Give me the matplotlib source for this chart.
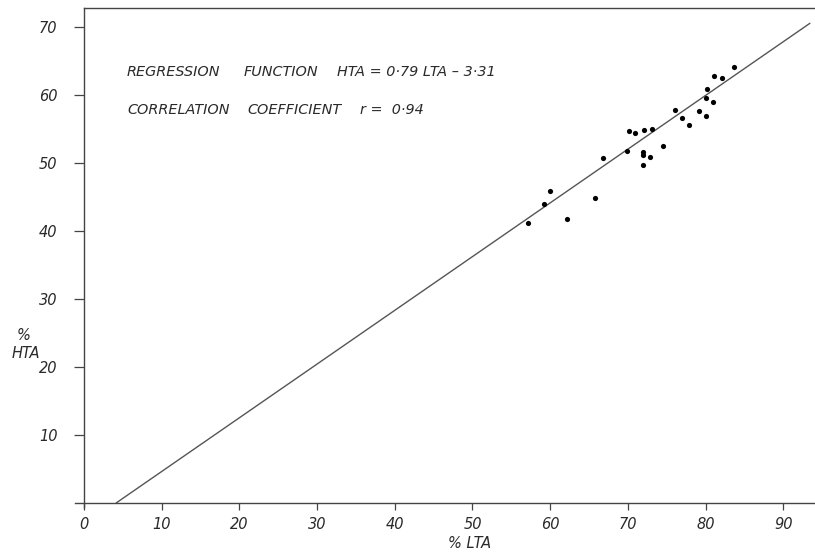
import matplotlib
matplotlib.use("Agg")
import matplotlib.pyplot as plt
import numpy as np

# Data
lta = [57.1, 59.2, 60.0, 62.1, 65.8, 66.8, 69.9, 70.1, 70.9, 71.9, 71.9, 71.9,
       72.8, 72.1, 73.1, 74.5, 76.0, 77.0, 77.9, 79.1, 80.1, 80.1, 81.0, 80.2,
       81.1, 82.1, 83.6]
hta = [41.2, 43.9, 45.8, 41.7, 44.8, 50.7, 51.7, 54.6, 54.4, 51.6, 51.1, 49.7,
       50.8, 54.8, 54.9, 52.4, 57.7, 56.6, 55.6, 57.6, 56.8, 59.5, 58.9, 60.8,
       62.7, 62.5, 64.1]
slope = 0.79
intercept = -3.31
r_value = 0.94
x_ticks = [0, 10, 20, 30, 40, 50, 60, 70, 80, 90]
y_ticks = [10, 20, 30, 40, 50, 60, 70]

W, H = 815, 552
fig = plt.figure(figsize=(W / 100, H / 100), dpi=100)
left_px, right_px, top_px, bottom_px = 84, 815, 8.3, 502.7
ax = fig.add_axes([left_px / W, (H - bottom_px) / H,
                   (right_px - left_px) / W, (bottom_px - top_px) / H])

xmax = 94.08
ymax = 72.7
ax.set_xlim(0, xmax)
ax.set_ylim(0, ymax)

ink = "#2a2a2a"
font = dict(family="DejaVu Sans", style="italic", color=ink)

# regression line
x0 = -intercept / slope
xs = np.array([x0, 93.4])
ax.plot(xs, slope * xs + intercept, color="#555555", lw=1.0)

ax.scatter(lta, hta, s=14, color="black", zorder=3, linewidths=0)

for side in ["left", "top", "bottom"]:
    ax.spines[side].set_color("#444444")
    ax.spines[side].set_linewidth(1.0)
ax.spines["right"].set_visible(False)
ax.spines["bottom"].set_bounds(-1.15, xmax)
ax.spines["left"].set_bounds(-0.6, ymax)

ax.set_xticks(x_ticks)
ax.set_xticklabels([str(v) for v in x_ticks])
ax.set_yticks(y_ticks)
ax.set_yticklabels([str(v) for v in y_ticks])
ax.tick_params(axis="x", direction="out", length=5, width=0.9, color="#444444",
               pad=5, labelsize=10.5, labelcolor=ink)
ax.tick_params(axis="y", direction="out", length=7, width=0.9, color="#444444",
               pad=12, labelsize=10.5, labelcolor=ink)
for lbl in ax.get_xticklabels() + ax.get_yticklabels():
    lbl.set_fontstyle("italic")
    lbl.set_family("DejaVu Sans")

# axis labels
fig.text(470 / W, 1 - 543.3 / H, "% LTA", ha="center", va="center", fontsize=10.5, **font)
fig.text(24 / W, 1 - 335 / H, "%", ha="center", va="center", fontsize=10.5, **font)
fig.text(26 / W, 1 - 353.3 / H, "HTA", ha="center", va="center", fontsize=10.5, **font)

# annotation text
fs = 10.4
fig.text(127 / W, 1 - 71.7 / H, "REGRESSION", ha="left", va="center", fontsize=fs, **font)
fig.text(244 / W, 1 - 71.7 / H, "FUNCTION", ha="left", va="center", fontsize=fs, **font)
fig.text(337 / W, 1 - 71.7 / H,
         "HTA = {}·{} LTA – {}·{}".format(*f"{slope:.2f}".split("."), *f"{-intercept:.2f}".split(".")),
         ha="left", va="center", fontsize=fs, **font)
fig.text(127 / W, 1 - 110 / H, "CORRELATION", ha="left", va="center", fontsize=fs, **font)
fig.text(247 / W, 1 - 110 / H, "COEFFICIENT", ha="left", va="center", fontsize=fs, **font)
fig.text(360 / W, 1 - 110 / H, "r =  {}·{}".format(*f"{r_value:.2f}".split(".")),
         ha="left", va="center", fontsize=fs, **font)

fig.savefig("out.png", dpi=100)
